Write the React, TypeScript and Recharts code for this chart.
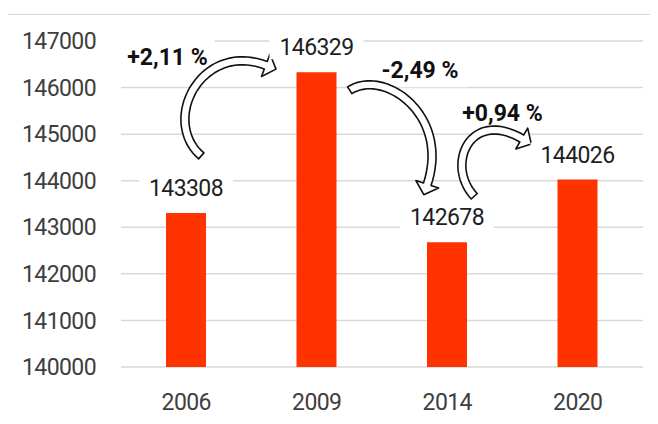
import React from "react";
import {
  BarChart,
  Bar,
  XAxis,
  YAxis,
  CartesianGrid,
  LabelList,
  ReferenceLine,
} from "recharts";

const years = ["2006", "2009", "2014", "2020"];
const population = [143308, 146329, 142678, 144026];
const yTicks = [140000, 141000, 142000, 143000, 144000, 145000, 146000, 147000];
const changeLabels = ["+2,11 %", "-2,49 %", "+0,94 %"];

const data = years.map((year, i) => ({ year, value: population[i] }));

// arrow layout: offsets from the bar tops (a = from, b = to, m = midpoint)
const ARROW_LAYOUT = [
  { tail: [15, -57], c1: [-26, -93], c2: [-115, -31], head: [-51, -7], text: [-84, -86] },
  { tail: [33, 18], c1: [68, -4], c2: [3, -127], head: [-20, -58], text: [38, -87] },
  { tail: [27, -46], c1: [-2, -77], c2: [-108, -71], head: [-56, -41], text: [-10, -98] },
];

const FONT = "Roboto, 'Noto Sans', sans-serif";

type Pt = [number, number];

function arrowOutline(p0: Pt, p1: Pt, p2: Pt, p3: Pt, band = 8, headW = 24, headL = 11) {
  const n = 40;
  const left: Pt[] = [];
  const right: Pt[] = [];
  let ux = 1, uy = 0;
  for (let i = 0; i <= n; i++) {
    const t = i / n;
    const mt = 1 - t;
    const x = mt * mt * mt * p0[0] + 3 * mt * mt * t * p1[0] + 3 * mt * t * t * p2[0] + t * t * t * p3[0];
    const y = mt * mt * mt * p0[1] + 3 * mt * mt * t * p1[1] + 3 * mt * t * t * p2[1] + t * t * t * p3[1];
    const dx = 3 * mt * mt * (p1[0] - p0[0]) + 6 * mt * t * (p2[0] - p1[0]) + 3 * t * t * (p3[0] - p2[0]);
    const dy = 3 * mt * mt * (p1[1] - p0[1]) + 6 * mt * t * (p2[1] - p1[1]) + 3 * t * t * (p3[1] - p2[1]);
    const len = Math.hypot(dx, dy) || 1;
    ux = dx / len;
    uy = dy / len;
    const nx = -uy, ny = ux;
    left.push([x + (nx * band) / 2, y + (ny * band) / 2]);
    right.push([x - (nx * band) / 2, y - (ny * band) / 2]);
  }
  const nx = -uy, ny = ux;
  const hl: Pt = [p3[0] + (nx * headW) / 2, p3[1] + (ny * headW) / 2];
  const hr: Pt = [p3[0] - (nx * headW) / 2, p3[1] - (ny * headW) / 2];
  const tip: Pt = [p3[0] + ux * headL, p3[1] + uy * headL];
  const pts = [...left, hl, tip, hr, ...right.reverse()];
  return "M" + pts.map((p) => `${p[0].toFixed(1)},${p[1].toFixed(1)}`).join("L") + "Z";
}

function ChangeArrow(props: any) {
  const { x1, y1, x2, y2, index } = props;
  if (x1 == null || x2 == null) return null;
  const lay = ARROW_LAYOUT[index];
  const mx = (x1 + x2) / 2;
  const my = (y1 + y2) / 2;
  const p0: Pt = [x1 + lay.tail[0], y1 + lay.tail[1]];
  const p1: Pt = [x1 + lay.c1[0], y1 + lay.c1[1]];
  const p2: Pt = [x2 + lay.c2[0], y2 + lay.c2[1]];
  const p3: Pt = [x2 + lay.head[0], y2 + lay.head[1]];
  const tx = mx + lay.text[0];
  const ty = my + lay.text[1];
  return (
    <g>
      <rect x={tx - 47} y={ty - 17} width={94} height={34} fill="#fff" />
      <text
        x={tx}
        y={ty + 8}
        textAnchor="middle"
        fontSize={23}
        fontWeight="bold"
        fontFamily={FONT}
        fill="#111"
      >
        {changeLabels[index]}
      </text>
      <path
        d={arrowOutline(p0, p1, p2, p3)}
        fill="#fff"
        stroke="#111"
        strokeWidth={1.6}
        strokeLinejoin="round"
      />
    </g>
  );
}

function ValueLabel(props: any) {
  const vb = props.viewBox || {};
  const x = props.x ?? vb.x;
  const y = props.y ?? vb.y;
  const width = props.width ?? vb.width;
  const cx = x + width / 2;
  const cy = y - 25;
  return (
    <g>
      <rect x={cx - 47} y={cy - 12} width={94} height={24} fill="#fff" />
      <text
        x={cx}
        y={cy + 8}
        textAnchor="middle"
        fontSize={23}
        letterSpacing={-0.6}
        fontFamily={FONT}
        fill="#1e1e1e"
      >
        {props.value}
      </text>
    </g>
  );
}

const tickStyle = { fontSize: 23, fill: "#3e3e3e", fontFamily: FONT, letterSpacing: -0.6 };

export default function App() {
  return (
    <div style={{ position: "relative", left: -8, top: -8, width: 658, height: 424, overflow: "hidden", background: "#fff" }}>
      <div style={{ position: "absolute", left: 2, top: 13, width: 1, height: 420, background: "#e6e6e6" }} />
      <div
        style={{
          position: "absolute",
          left: 6,
          top: 14,
          width: 700,
          height: 500,
          borderLeft: "1.5px solid #d6d6d6",
          borderTop: "1.5px solid #d6d6d6",
        }}
      />
      <div style={{ position: "absolute", left: 0, top: 0 }}>
        <BarChart width={658} height={424} data={data} margin={{ top: 41, right: 15, bottom: 0, left: 0 }}>
          <CartesianGrid vertical={false} stroke="#d9d9d9" strokeWidth={1.5} />
          <XAxis
            dataKey="year"
            axisLine={false}
            tickLine={false}
            height={57}
            tickMargin={21}
            tick={tickStyle}
          />
          <YAxis
            type="number"
            domain={[140000, 147000]}
            ticks={yTicks}
            interval={0}
            width={121}
            axisLine={false}
            tickLine={false}
            tickMargin={19}
            tick={tickStyle}
          />
          <Bar dataKey="value" fill="#ff3300" barSize={40} isAnimationActive={false}>
            <LabelList dataKey="value" content={ValueLabel} />
          </Bar>
          {changeLabels.map((_, i) => (
            <ReferenceLine
              key={i}
              ifOverflow="visible"
              segment={[
                { x: years[i], y: population[i] },
                { x: years[i + 1], y: population[i + 1] },
              ]}
              shape={(p: any) => <ChangeArrow {...p} index={i} />}
            />
          ))}
        </BarChart>
      </div>
    </div>
  );
}
